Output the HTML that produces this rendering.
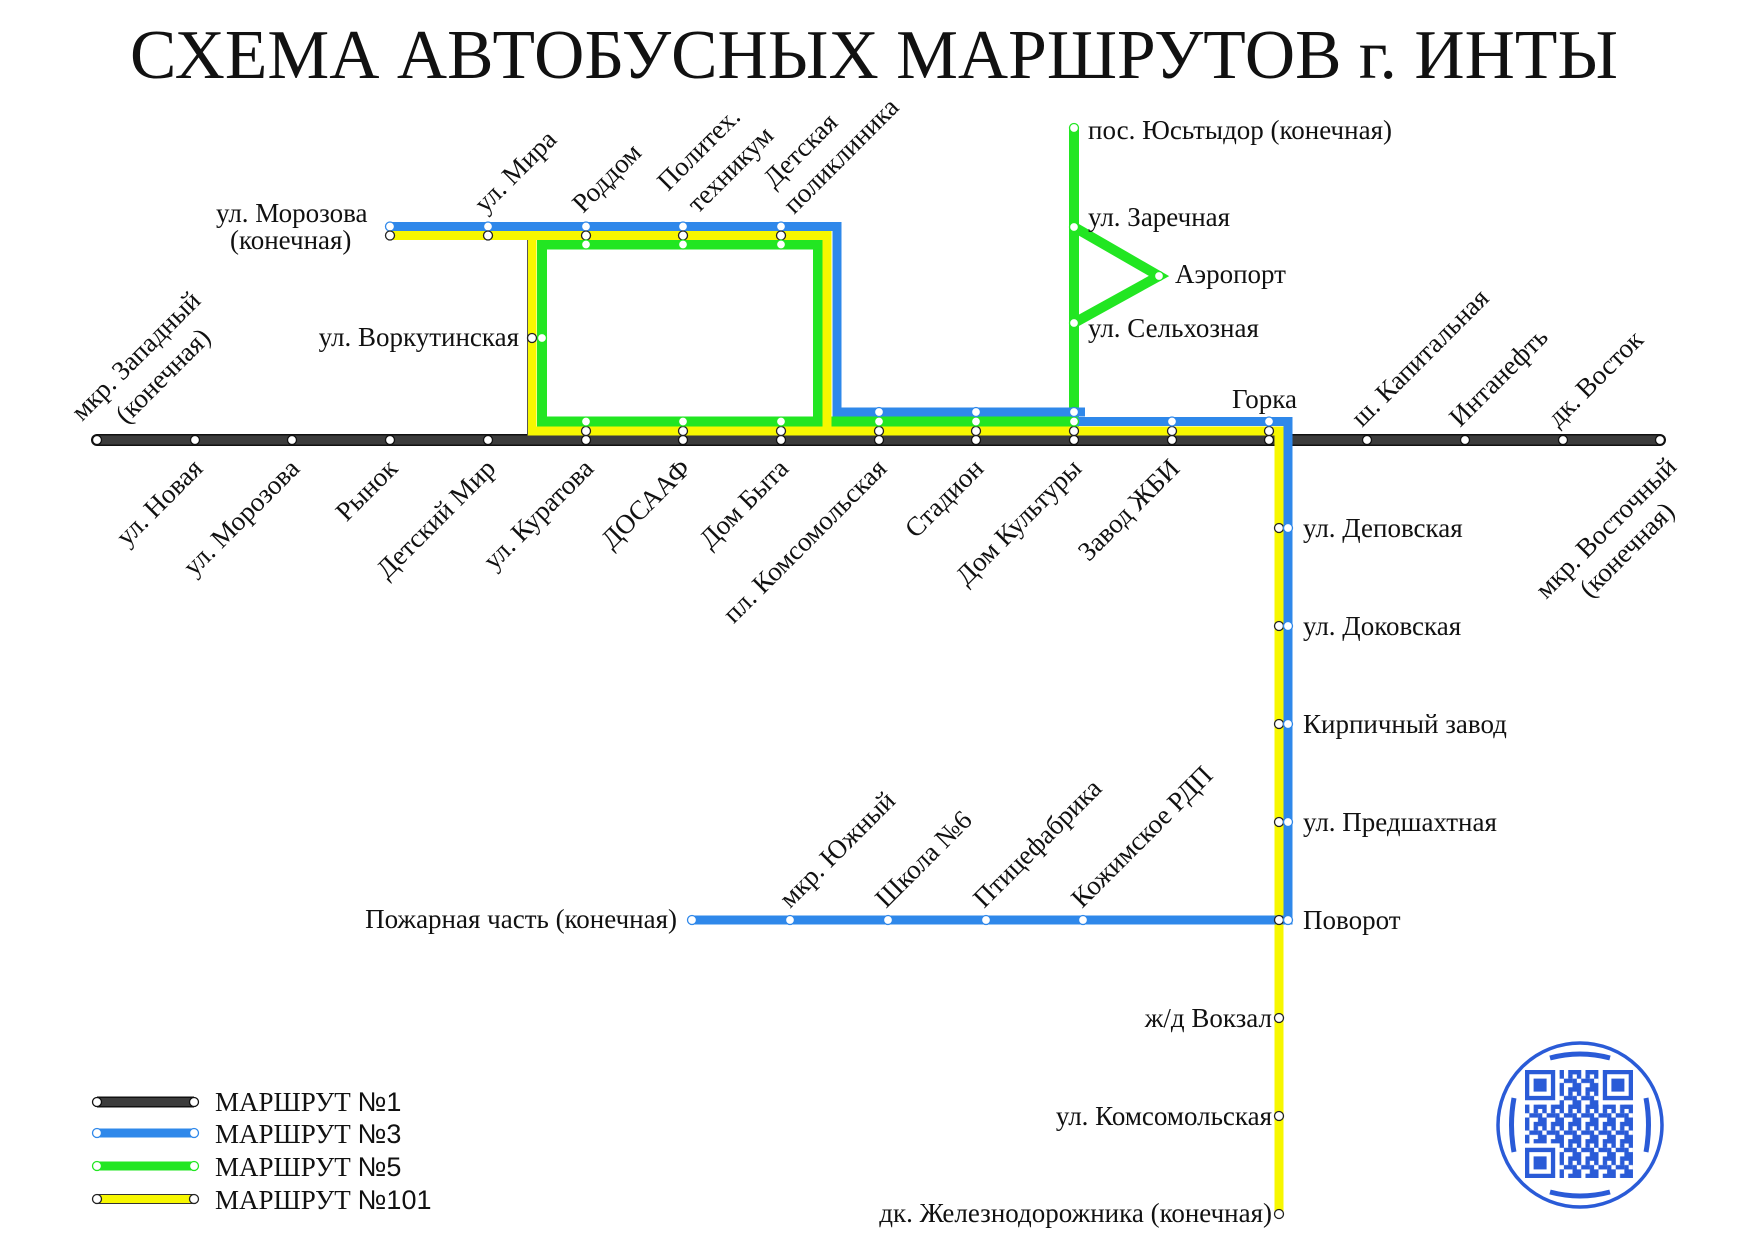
<!DOCTYPE html>
<html><head><meta charset="utf-8"><style>
html,body{margin:0;padding:0;background:#fff}
svg{display:block}
text{font-family:"Liberation Serif",serif;fill:#111}
.k{fill:#fff;stroke:#111;stroke-width:1.3}
.b{fill:#fff;stroke:#2f88ea;stroke-width:1.3}
.g{fill:#fff;stroke:#22e622;stroke-width:1.3}
.y{fill:#fff;stroke:#222;stroke-width:1.3}
</style></head><body>
<svg width="1754" height="1239" viewBox="0 0 1754 1239" xmlns="http://www.w3.org/2000/svg">
<defs>
<pattern id="qp" x="1525" y="1070" width="17.28" height="17.28" patternUnits="userSpaceOnUse">
<rect x="0" y="0" width="4.4" height="8.7" fill="#2a5bd7"/>
<rect x="8.64" y="0" width="8.7" height="4.4" fill="#2a5bd7"/>
<rect x="4.32" y="8.64" width="8.7" height="4.4" fill="#2a5bd7"/>
<rect x="12.96" y="8.64" width="4.4" height="8.7" fill="#2a5bd7"/>
<rect x="0" y="12.96" width="4.4" height="4.4" fill="#2a5bd7"/>
<rect x="8.64" y="4.32" width="4.4" height="4.4" fill="#2a5bd7"/>
</pattern>
</defs>
<rect width="1754" height="1239" fill="#fff"/>
<text x="130" y="78" font-size="70" textLength="1488" lengthAdjust="spacingAndGlyphs">СХЕМА АВТОБУСНЫХ МАРШРУТОВ г. ИНТЫ</text>

<line x1="97" y1="440" x2="1660" y2="440" stroke="#111" stroke-width="12" stroke-linecap="round"/>
<line x1="97" y1="440" x2="1660" y2="440" stroke="#3c3c3c" stroke-width="9" stroke-linecap="round"/>

<g fill="none" stroke-linejoin="miter">
<path d="M1074,128 V421.5 H542 V244.5 H818 V421.5" stroke="#22e622" stroke-width="10"/>
<path d="M1074,227 L1159,276 L1074,323" stroke="#22e622" stroke-width="10"/>
<path d="M390,235.5 H827 V431" stroke="#f7f700" stroke-width="9"/>
<path d="M532,235.5 V431 H1279 V1214" stroke="#f7f700" stroke-width="9"/>
<line x1="527.5" y1="240" x2="527.5" y2="435" stroke="#555" stroke-width="1"/>
<path d="M390,226.5 H837 V412 H1085" stroke="#2f88ea" stroke-width="9"/>
<path d="M1074,421.5 H1288 V920 H692" stroke="#2f88ea" stroke-width="9"/>
</g>

<g>
<circle class="k" cx="97" cy="440" r="4.5"/><circle class="k" cx="195" cy="440" r="4.5"/><circle class="k" cx="292" cy="440" r="4.5"/><circle class="k" cx="390" cy="440" r="4.5"/><circle class="k" cx="488" cy="440" r="4.5"/><circle class="k" cx="586" cy="440" r="4.5"/><circle class="k" cx="683" cy="440" r="4.5"/><circle class="k" cx="781" cy="440" r="4.5"/><circle class="k" cx="879" cy="440" r="4.5"/><circle class="k" cx="976" cy="440" r="4.5"/><circle class="k" cx="1074" cy="440" r="4.5"/><circle class="k" cx="1172" cy="440" r="4.5"/><circle class="k" cx="1269" cy="440" r="4.5"/><circle class="k" cx="1367" cy="440" r="4.5"/><circle class="k" cx="1465" cy="440" r="4.5"/><circle class="k" cx="1563" cy="440" r="4.5"/><circle class="k" cx="1660" cy="440" r="4.5"/>
<circle class="y" cx="586" cy="431" r="4.5"/><circle class="y" cx="683" cy="431" r="4.5"/><circle class="y" cx="781" cy="431" r="4.5"/><circle class="y" cx="879" cy="431" r="4.5"/><circle class="y" cx="976" cy="431" r="4.5"/><circle class="y" cx="1074" cy="431" r="4.5"/><circle class="y" cx="1172" cy="431" r="4.5"/><circle class="y" cx="1269" cy="431" r="4.5"/>
<circle class="g" cx="586" cy="421.5" r="4.5"/><circle class="g" cx="683" cy="421.5" r="4.5"/><circle class="g" cx="781" cy="421.5" r="4.5"/><circle class="g" cx="879" cy="421.5" r="4.5"/><circle class="g" cx="976" cy="421.5" r="4.5"/><circle class="g" cx="1074" cy="421.5" r="4.5"/>
<circle class="b" cx="879" cy="412" r="4.5"/><circle class="b" cx="976" cy="412" r="4.5"/><circle class="b" cx="1074" cy="412" r="4.5"/><circle class="b" cx="1172" cy="421.5" r="4.5"/><circle class="b" cx="1269" cy="421.5" r="4.5"/>
<circle class="b" cx="390" cy="226.5" r="4.5"/><circle class="b" cx="488" cy="226.5" r="4.5"/><circle class="b" cx="586" cy="226.5" r="4.5"/><circle class="b" cx="683" cy="226.5" r="4.5"/><circle class="b" cx="781" cy="226.5" r="4.5"/>
<circle class="y" cx="390" cy="235.5" r="4.5"/><circle class="y" cx="488" cy="235.5" r="4.5"/><circle class="y" cx="586" cy="235.5" r="4.5"/><circle class="y" cx="683" cy="235.5" r="4.5"/><circle class="y" cx="781" cy="235.5" r="4.5"/>
<circle class="g" cx="586" cy="244.5" r="4.5"/><circle class="g" cx="683" cy="244.5" r="4.5"/><circle class="g" cx="781" cy="244.5" r="4.5"/>
<circle class="y" cx="532" cy="338" r="4.5"/><circle class="g" cx="542" cy="338" r="4.5"/>
<circle class="g" cx="1074" cy="128" r="4.5"/><circle class="g" cx="1074" cy="227" r="4.5"/><circle class="g" cx="1074" cy="323" r="4.5"/><circle class="g" cx="1159" cy="276" r="4.5"/>
<circle class="y" cx="1279" cy="528" r="4.5"/><circle class="b" cx="1288" cy="528" r="4.5"/>
<circle class="y" cx="1279" cy="626" r="4.5"/><circle class="b" cx="1288" cy="626" r="4.5"/>
<circle class="y" cx="1279" cy="724" r="4.5"/><circle class="b" cx="1288" cy="724" r="4.5"/>
<circle class="y" cx="1279" cy="822" r="4.5"/><circle class="b" cx="1288" cy="822" r="4.5"/>
<circle class="y" cx="1279" cy="920" r="4.5"/><circle class="b" cx="1288" cy="920" r="4.5"/>
<circle class="y" cx="1279" cy="1018" r="4.5"/><circle class="y" cx="1279" cy="1116" r="4.5"/><circle class="y" cx="1279" cy="1214" r="4.5"/>
<circle class="b" cx="692" cy="920" r="4.5"/><circle class="b" cx="790" cy="920" r="4.5"/><circle class="b" cx="888" cy="920" r="4.5"/><circle class="b" cx="986" cy="920" r="4.5"/><circle class="b" cx="1083" cy="920" r="4.5"/>
</g>

<g font-size="27">
<text x="216" y="222">ул. Морозова</text>
<text x="230" y="249">(конечная)</text>
<text x="519" y="346" text-anchor="end">ул. Воркутинская</text>
<text x="1232" y="408">Горка</text>
<text x="1088" y="139">пос. Юсьтыдор (конечная)</text>
<text x="1088" y="226">ул. Заречная</text>
<text x="1175" y="283">Аэропорт</text>
<text x="1088" y="337">ул. Сельхозная</text>
<text x="1303" y="537">ул. Деповская</text>
<text x="1303" y="635">ул. Доковская</text>
<text x="1303" y="733">Кирпичный завод</text>
<text x="1303" y="831">ул. Предшахтная</text>
<text x="1303" y="929">Поворот</text>
<text x="1272" y="1027" text-anchor="end">ж/д Вокзал</text>
<text x="1272" y="1125" text-anchor="end">ул. Комсомольская</text>
<text x="1272" y="1222" text-anchor="end">дк. Железнодорожника (конечная)</text>
<text x="677" y="928" text-anchor="end">Пожарная часть (конечная)</text>

<g text-anchor="end">
<text x="204" y="470" transform="rotate(-45 204 470)">ул. Новая</text>
<text x="301" y="470" transform="rotate(-45 301 470)">ул. Морозова</text>
<text x="399" y="470" transform="rotate(-45 399 470)">Рынок</text>
<text x="497" y="470" transform="rotate(-45 497 470)">Детский Мир</text>
<text x="595" y="470" transform="rotate(-45 595 470)">ул. Куратова</text>
<text x="692" y="470" transform="rotate(-45 692 470)">ДОСААФ</text>
<text x="790" y="470" transform="rotate(-45 790 470)">Дом Быта</text>
<text x="888" y="470" transform="rotate(-45 888 470)">пл. Комсомольская</text>
<text x="985" y="470" transform="rotate(-45 985 470)">Стадион</text>
<text x="1083" y="470" transform="rotate(-45 1083 470)">Дом Культуры</text>
<text x="1181" y="470" transform="rotate(-45 1181 470)">Завод ЖБИ</text>
</g>
<text x="1362" y="428" transform="rotate(-45 1362 428)">ш. Капитальная</text>
<text x="1460" y="428" transform="rotate(-45 1460 428)">Интанефть</text>
<text x="1558" y="428" transform="rotate(-45 1558 428)">дк. Восток</text>
<g text-anchor="middle">
<text x="142" y="362" transform="rotate(-45 142 362)">мкр. Западный</text>
<text x="169" y="382" transform="rotate(-45 169 382)">(конечная)</text>
<text x="1612" y="534" transform="rotate(-45 1612 534)">мкр. Восточный</text>
<text x="1633" y="556" transform="rotate(-45 1633 556)">(конечная)</text>
</g>
<text x="485" y="214" transform="rotate(-45 485 214)">ул. Мира</text>
<text x="583" y="214" transform="rotate(-45 583 214)">Роддом</text>
<text x="668" y="192" transform="rotate(-45 668 192)">Политех.</text>
<text x="698" y="214" transform="rotate(-45 698 214)">техникум</text>
<text x="774" y="189" transform="rotate(-45 774 189)">Детская</text>
<text x="794" y="215" transform="rotate(-45 794 215)">поликлиника</text>
<text x="790" y="909" transform="rotate(-45 790 909)">мкр. Южный</text>
<text x="886" y="909" transform="rotate(-45 886 909)">Школа №6</text>
<text x="984" y="909" transform="rotate(-45 984 909)">Птицефабрика</text>
<text x="1082" y="909" transform="rotate(-45 1082 909)">Кожимское РДП</text>
</g>

<g>
<line x1="97" y1="1102" x2="194" y2="1102" stroke="#111" stroke-width="11"/>
<line x1="97" y1="1102" x2="194" y2="1102" stroke="#3c3c3c" stroke-width="8"/>
<line x1="97" y1="1133" x2="194" y2="1133" stroke="#2f88ea" stroke-width="9"/>
<line x1="97" y1="1166" x2="194" y2="1166" stroke="#22e622" stroke-width="9"/>
<line x1="97" y1="1199" x2="194" y2="1199" stroke="#f7f700" stroke-width="9"/>
<line x1="97" y1="1194.5" x2="194" y2="1194.5" stroke="#333" stroke-width="1"/>
<line x1="97" y1="1203.5" x2="194" y2="1203.5" stroke="#333" stroke-width="1"/>
<circle class="k" cx="97" cy="1102" r="4.5"/><circle class="k" cx="194" cy="1102" r="4.5"/>
<circle class="b" cx="97" cy="1133" r="4.5"/><circle class="b" cx="194" cy="1133" r="4.5"/>
<circle class="g" cx="97" cy="1166" r="4.5"/><circle class="g" cx="194" cy="1166" r="4.5"/>
<circle class="y" cx="97" cy="1199" r="4.5"/><circle class="y" cx="194" cy="1199" r="4.5"/>
<g font-size="27">
<text x="215" y="1111">МАРШРУТ <tspan font-family="Liberation Sans, sans-serif">№1</tspan></text>
<text x="215" y="1143">МАРШРУТ <tspan font-family="Liberation Sans, sans-serif">№3</tspan></text>
<text x="215" y="1176">МАРШРУТ <tspan font-family="Liberation Sans, sans-serif">№5</tspan></text>
<text x="215" y="1209">МАРШРУТ <tspan font-family="Liberation Sans, sans-serif">№101</tspan></text>
</g>
</g>

<g>
<ellipse cx="1580" cy="1125" rx="82" ry="82" fill="#fff" stroke="#2a5bd7" stroke-width="3.5"/>
<path d="M1550,1058 Q1580,1050 1610,1058" stroke="#2a5bd7" stroke-width="5" fill="none"/>
<path d="M1550,1192 Q1580,1200 1610,1192" stroke="#2a5bd7" stroke-width="5" fill="none"/>
<path d="M1514,1098 Q1509,1125 1514,1152" stroke="#2a5bd7" stroke-width="5" fill="none"/>
<path d="M1646,1098 Q1651,1125 1646,1152" stroke="#2a5bd7" stroke-width="5" fill="none"/>
<rect x="1525" y="1070" width="108" height="108" fill="url(#qp)"/>
<g fill="#2a5bd7">
<rect x="1525" y="1070" width="34.6" height="34.6" fill="#fff"/>
<rect x="1598.4" y="1070" width="34.6" height="34.6" fill="#fff"/>
<rect x="1525" y="1143.4" width="34.6" height="34.6" fill="#fff"/>
<path d="M1525,1070h30.2v30.2h-30.2z M1529.3,1074.3v21.6h21.6v-21.6z" fill-rule="evenodd"/>
<rect x="1533.6" y="1078.6" width="13" height="13"/>
<path d="M1602.8,1070h30.2v30.2h-30.2z M1607.1,1074.3v21.6h21.6v-21.6z" fill-rule="evenodd"/>
<rect x="1611.4" y="1078.6" width="13" height="13"/>
<path d="M1525,1147.8h30.2v30.2h-30.2z M1529.3,1152.1v21.6h21.6v-21.6z" fill-rule="evenodd"/>
<rect x="1533.6" y="1156.4" width="13" height="13"/>
</g>
</g>
</svg>
</body></html>
